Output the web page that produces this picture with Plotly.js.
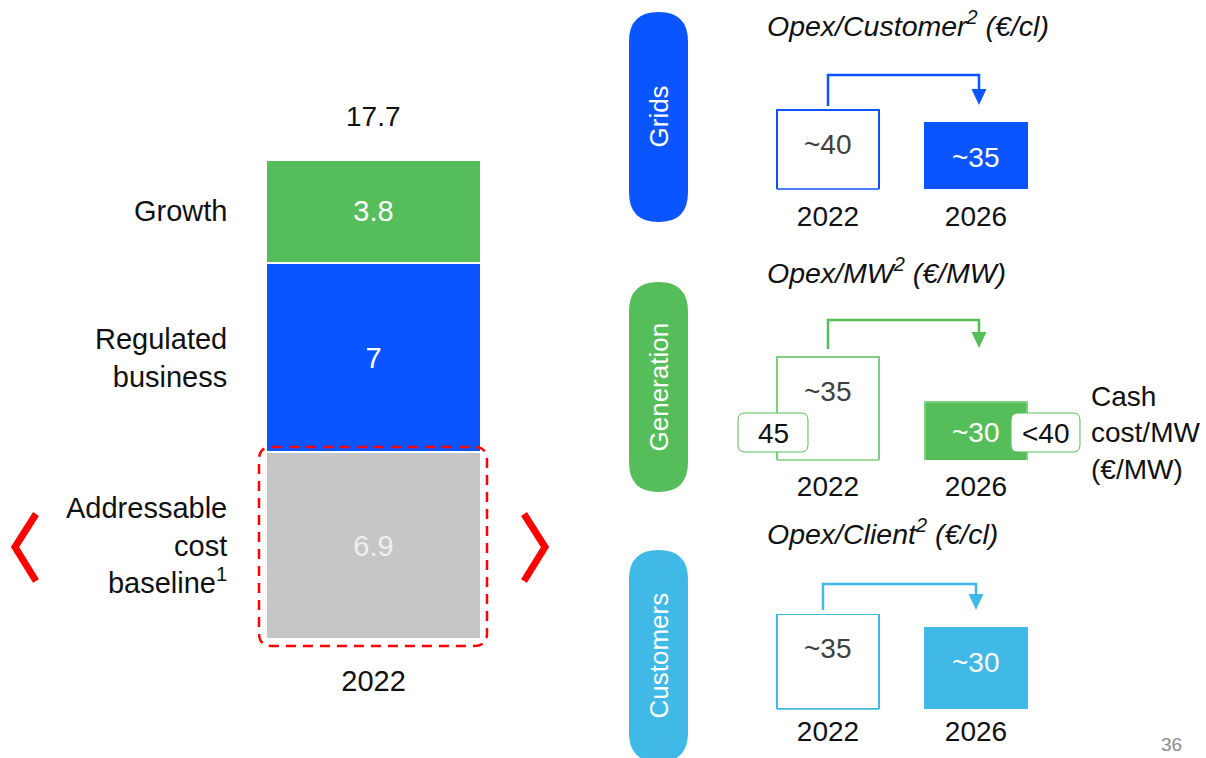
<!DOCTYPE html>
<html>
<head>
<meta charset="utf-8">
<script src="https://cdn.plot.ly/plotly-3.0.1.min.js"></script>
<style>
  html, body { margin: 0; padding: 0; background: #fff; }
  #chart { width: 1206px; height: 758px; }
</style>
</head>
<body>
<div id="chart"></div>
<script>
// left: 2022 cost base, stacked bottom to top
var costYear = ["2022"];
var costLabels = ["Addressable<br>cost<br>baseline<sup>1</sup>", "Regulated<br>business", "Growth"];
var costValues = [6.9, 7, 3.8];

// right: unit opex 2022 -> 2026
var years = ["2022", "2026"];
var panelNames = ["Grids", "Generation", "Customers"];
var panelTitles = ["Opex/Customer<sup>2</sup> (€/cl)", "Opex/MW<sup>2</sup> (€/MW)", "Opex/Client<sup>2</sup> (€/cl)"];
var gridsOpex = [40, 35];
var genOpex = [35, 30];
var custOpex = [35, 30];
var genCashCost = ["45", "<40"];

var BLUE = "#0A55FF", GREEN = "#55BE5A", LIGHTBLUE = "#41B9E6", GREY = "#C6C6C6", RED = "#FF0000";
var FONT = "Liberation Sans, Arial, sans-serif";
var W = 1206, H = 758;
function X(p) { return p / W; }
function Y(p) { return 1 - p / H; }
function pt(x, y) { return X(x).toFixed(5) + "," + Y(y).toFixed(5); }

// rounded rectangle path in pixels -> paper
function rr(x0, y0, x1, y1, r) {
  return "M" + pt(x0 + r, y0) + " L" + pt(x1 - r, y0) + " Q" + pt(x1, y0) + " " + pt(x1, y0 + r) +
    " L" + pt(x1, y1 - r) + " Q" + pt(x1, y1) + " " + pt(x1 - r, y1) +
    " L" + pt(x0 + r, y1) + " Q" + pt(x0, y1) + " " + pt(x0, y1 - r) +
    " L" + pt(x0, y0 + r) + " Q" + pt(x0, y0) + " " + pt(x0 + r, y0) + " Z";
}

// paper-positioned text, anchors pinned (no 'auto')
function label(x, y, text, size, color, extra) {
  var a = { xref: "paper", yref: "paper", x: X(x), y: Y(y), xanchor: "center", yanchor: "middle",
    text: text, showarrow: false, font: { family: FONT, size: size, color: color } };
  for (var k in extra) a[k] = extra[k];
  return a;
}

var data = [];
var annotations = [];
var shapes = [];

// stacked bar
var costColors = [GREY, BLUE, GREEN];
var costTextColors = ["#EFEFEF", "white", "white"];
var cum = 0;
costValues.forEach(function(v, i) {
  data.push({
    type: "bar", x: costYear, y: [v], width: 1,
    marker: { color: costColors[i], line: { color: "white", width: 2 } },
    text: [String(v)], textposition: "inside", insidetextanchor: "middle",
    textfont: { family: FONT, size: 29, color: costTextColors[i] },
    hoverinfo: "skip", xaxis: "x", yaxis: "y"
  });
  annotations.push({
    xref: "paper", yref: "y", x: X(229), y: cum + v / 2, xanchor: "right", yanchor: "middle",
    align: "right", text: costLabels[i], showarrow: false,
    font: { family: FONT, size: 29, color: "#111" }
  });
  cum += v;
});
annotations.push({
  xref: "x", yref: "y", x: 0, y: cum, xanchor: "center", yanchor: "middle", yshift: 43,
  text: cum.toFixed(1), showarrow: false, font: { family: FONT, size: 28, color: "#111" }
});

// dashed frame + chevrons round the addressable baseline
shapes.push({ type: "path", xref: "paper", yref: "paper", path: rr(259, 447, 487, 646, 13),
  line: { color: RED, width: 2.5, dash: "10px,7px" } });
shapes.push({ type: "path", xref: "paper", yref: "paper",
  path: "M" + pt(36, 514) + " L" + pt(15, 547) + " L" + pt(36, 581),
  line: { color: RED, width: 7 } });
shapes.push({ type: "path", xref: "paper", yref: "paper",
  path: "M" + pt(524, 514) + " L" + pt(545, 547) + " L" + pt(524, 581),
  line: { color: RED, width: 7 } });

// right panels
var BARW = 0.69;
var panels = [
  { vals: gridsOpex, color: BLUE, outline: BLUE, ax: "2", bottom: 189, top: 100, r0: 9.615, k: 2.6,
    pill: [12, 222], titleY: 24, arrow: [828, 106, 75, 979, 91], shifts: [-34, -34], standoff: 8 },
  { vals: genOpex, color: GREEN, outline: "#7FCF83", ax: "3", bottom: 460, top: 350, r0: 23.56, k: 9,
    pill: [282, 492], titleY: 271, arrow: [828, 349, 320, 979, 334], shifts: [-34, -30], standoff: 7 },
  { vals: custOpex, color: LIGHTBLUE, outline: LIGHTBLUE, ax: "4", bottom: 709, top: 605, r0: 0, k: 2.7,
    pill: [550, 762], titleY: 532, arrow: [823, 610, 584, 976, 596], shifts: [-34, -34], standoff: 3 }
];

var layout = {
  width: W, height: H,
  margin: { l: 0, r: 0, t: 0, b: 0 },
  paper_bgcolor: "white", plot_bgcolor: "rgba(0,0,0,0)",
  barmode: "stack", showlegend: false,
  xaxis: { domain: [X(266), X(481)], type: "category", range: [-0.5, 0.5], showgrid: false,
    zeroline: false, showline: false, ticks: "", ticklabelstandoff: 22,
    tickfont: { family: FONT, size: 29, color: "#111" }, fixedrange: true },
  yaxis: { domain: [Y(639), Y(160)], type: "linear", range: [0, 17.7], visible: false, fixedrange: true },
  annotations: annotations, shapes: shapes
};

panels.forEach(function(p, j) {
  var xa = "x" + p.ax, ya = "y" + p.ax;
  layout["xaxis" + p.ax] = { domain: [X(754), X(1050)], anchor: ya, type: "category", range: [-0.5, 1.5],
    showgrid: false, zeroline: false, showline: false, ticks: "", ticklabelstandoff: p.standoff,
    tickfont: { family: FONT, size: 28, color: "#111" }, fixedrange: true };
  layout["yaxis" + p.ax] = { domain: [Y(p.bottom), Y(p.top)], anchor: xa, type: "linear",
    range: [p.r0, p.r0 + (p.bottom - p.top) / p.k], visible: false, fixedrange: true };

  data.push({
    type: "bar", x: years, y: p.vals, width: BARW, xaxis: xa, yaxis: ya,
    marker: { color: ["white", p.color], line: { color: p.outline, width: 1.5 } },
    hoverinfo: "skip"
  });
  // bottom edge of the hollow 2022 box (bar runs below the cut axis)
  shapes.push({ type: "line", xref: xa, yref: ya + " domain", x0: -BARW / 2, x1: BARW / 2, y0: 0, y1: 0,
    line: { color: p.outline, width: 1.5 } });

  p.vals.forEach(function(v, i) {
    annotations.push({
      xref: xa, yref: ya, x: i, y: v, xanchor: "center", yanchor: "middle", yshift: p.shifts[i],
      text: "~" + v, showarrow: false,
      font: { family: FONT, size: 28, color: i === 0 ? "#404040" : "white" }
    });
  });

  // side pill
  shapes.push({ type: "path", xref: "paper", yref: "paper", layer: "below",
    path: rr(629, p.pill[0], 688, p.pill[1], 29.5), fillcolor: p.color, line: { width: 0 } });
  annotations.push(label(658.5, (p.pill[0] + Math.min(p.pill[1], 758)) / 2 + (j === 2 ? 2 : 0),
    panelNames[j], 26, "white", { textangle: -90 }));
  // title
  annotations.push(label(765, p.titleY, "<i>" + panelTitles[j] + "</i>", 28.5, "#111", { xanchor: "left" }));
  // elbow arrow 2022 -> 2026
  var a = p.arrow;
  shapes.push({ type: "path", xref: "paper", yref: "paper",
    path: "M" + pt(a[0], a[1]) + " L" + pt(a[0], a[2]) + " L" + pt(a[3], a[2]) + " L" + pt(a[3], a[4]),
    line: { color: p.color, width: 2.5 } });
  shapes.push({ type: "path", xref: "paper", yref: "paper",
    path: "M" + pt(a[3] - 7.5, a[4] - 2) + " L" + pt(a[3] + 7.5, a[4] - 2) + " L" + pt(a[3], a[4] + 14) + " Z",
    fillcolor: p.color, line: { width: 0 } });
});

// generation cash cost tags
var tagBoxes = [[738, 413, 808, 452], [1011, 413, 1080, 452]];
genCashCost.forEach(function(t, i) {
  var b = tagBoxes[i];
  shapes.push({ type: "path", xref: "paper", yref: "paper", path: rr(b[0], b[1], b[2], b[3], 7),
    fillcolor: "white", line: { color: GREEN, width: 1 } });
  annotations.push(label((b[0] + b[2]) / 2, (b[1] + b[3]) / 2 + 1, t.replace("<", "&lt;"), 28, "#111"));
});
annotations.push(label(1089, 433, "Cash<br>cost/MW<br>(€/MW)", 28, "#111", { xanchor: "left", align: "left" }));

// page number
annotations.push(label(1171, 744, "36", 19, "#8C8C8C"));

Plotly.newPlot("chart", data, layout, { staticPlot: true, displayModeBar: false });
</script>
</body>
</html>
